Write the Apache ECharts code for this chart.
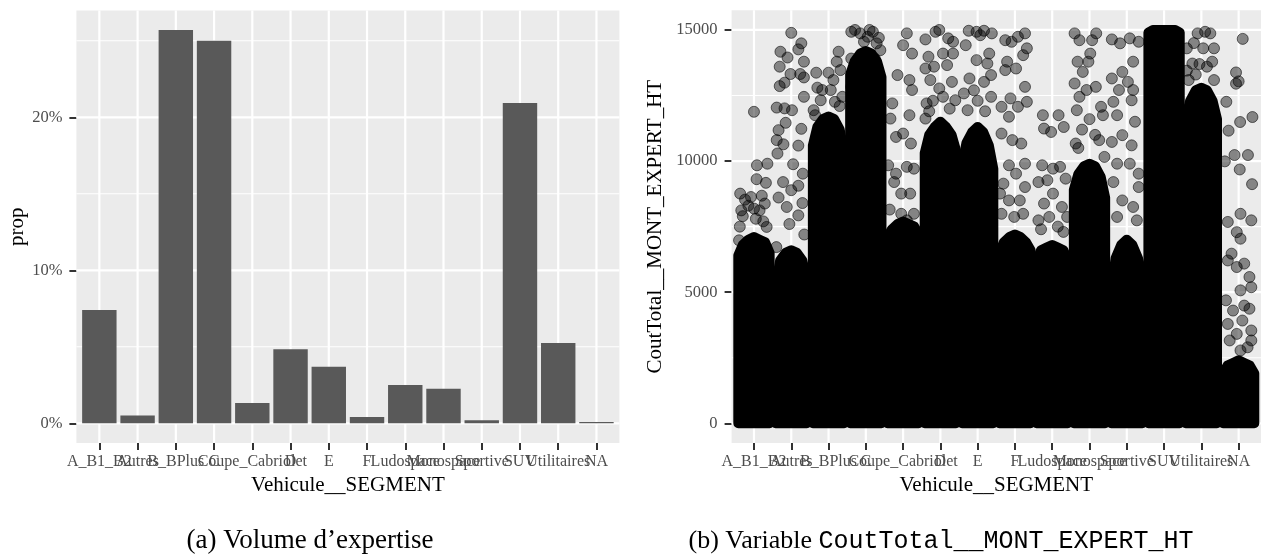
<!DOCTYPE html>
<html>
<head>
<meta charset="utf-8">
<script src="https://cdn.jsdelivr.net/npm/echarts@6/dist/echarts.min.js"></script>
<style>
  html, body { margin: 0; padding: 0; background: #ffffff; }
  #chart { width: 1261px; height: 559px; }
</style>
</head>
<body>
<div id="chart"></div>
<script>
// Vehicle segments, in axis order
const categories = ['A_B1_B2', 'Autres', 'B_BPlus', 'C', 'Coupe_Cabriolet', 'D', 'E', 'F',
  'Ludospace', 'Monospace', 'Sportive', 'SUV', 'Utilitaires', 'NA'];

// (a) share of expert reports per segment, in %
const propPct = [7.40, 0.52, 25.70, 25.00, 1.33, 4.84, 3.70, 0.41, 2.50, 2.26, 0.20, 20.93, 5.25, 0.08];
const propTicks = [0, 10, 20];
const propMinor = [5, 15, 25];

// (b) CoutTotal__MONT_EXPERT_HT per segment
const costTicks = [0, 5000, 10000, 15000];
const costMinor = [2500, 7500, 12500];

// Saturated part of each jittered column: upper envelope of the point centres
// at these horizontal offsets (in category units) from the segment position.
const coreOffsets = [-0.42, -0.3, -0.15, 0, 0.15, 0.3, 0.42];
const coreTops = [
  [6400, 6800, 7000, 7100, 7000, 6900, 6500],        // A_B1_B2
  [5200, 6200, 6500, 6600, 6500, 6200, 5400],        // Autres
  [10600, 11300, 11600, 11700, 11600, 11200, 10300], // B_BPlus
  [13300, 13800, 14100, 14200, 14100, 13800, 13200], // C
  [7100, 7400, 7600, 7700, 7600, 7500, 7200],        // Coupe_Cabriolet
  [10300, 11000, 11300, 11500, 11300, 11000, 10400], // D
  [9800, 10700, 11100, 11300, 11100, 10600, 9700],   // E
  [6500, 6900, 7100, 7200, 7100, 6900, 6600],        // F
  [6200, 6600, 6700, 6800, 6700, 6600, 6200],        // Ludospace
  [8900, 9500, 9800, 9900, 9800, 9400, 8600],        // Monospace
  [5000, 6300, 6800, 7000, 6800, 6300, 5600],        // Sportive
  [14900, 15000, 15000, 15000, 15000, 15000, 14900], // SUV
  [11600, 12300, 12700, 12800, 12700, 12300, 11600], // Utilitaires
  [1900, 2200, 2300, 2400, 2300, 2200, 1900]         // NA
];

// Isolated points above the saturated part: [offset, amount]
const costOutliers = [
  [[0,11880],[0.08,9840],[0.36,9900],[0.07,9310],[0.32,9170],[-0.37,8760],[-0.24,8530],[-0.08,8630],
   [0.21,8680],[0.29,8380],[-0.34,8120],[0,8190],[0.34,7490],[0.15,8120],[-0.4,6980],[-0.3,7900],
   [-0.15,8300],[0.05,7800],[0.25,7700],[-0.38,7500]],
  [[0,14890],[-0.29,14170],[0.27,14490],[0.19,14260],[-0.1,13950],[-0.31,13600],[0.34,13790],[-0.31,12860],
   [-0.18,12990],[-0.02,13320],[0.24,13320],[0.34,13190],[0.34,12450],[-0.39,12040],[-0.18,12010],[0.02,11940],
   [-0.15,11460],[-0.34,11180],[0.27,11230],[-0.39,10800],[-0.21,10640],[0.19,10590],[-0.37,10290],[0.05,9880],
   [0.31,9520],[-0.22,9200],[0,8890],[0.19,9060],[-0.34,8610],[-0.12,8250],[0.19,7930],[-0.4,6720],
   [0.3,8400],[-0.05,7600],[0.35,7200]],
  [[-0.33,13370],[0,13370],[-0.17,12710],[-0.4,11940],[0.27,14170],[0.22,13790],[0.32,13470],[0.13,13090],
   [0.06,12710],[-0.21,12320],[0.37,12450],[-0.36,11750],[0.17,12260],[-0.3,12800],[0.3,12100]],
  [[-0.39,14930],[-0.29,15000],[-0.15,14870],[0.19,14930],[0.29,14490],[0.05,14740],[-0.05,14550],[0.39,14230],
   [-0.39,13910],[-0.24,13600],[0.24,13910],[-0.39,12830],[-0.29,13280],[0.15,13600],[0.35,14700],[0.1,15000]],
  [[-0.15,13280],[0.1,14870],[0.24,14100],[0.17,13090],[0.24,12710],[0.17,11750],[-0.34,11620],[-0.19,10920],
   [0,11050],[0.21,10670],[-0.4,9840],[-0.19,9520],[0.1,9780],[0.29,9710],[-0.24,9200],[-0.05,8760],
   [0.19,8760],[-0.36,8150],[-0.05,7990],[0.29,7990],[0.1,7740],[-0.29,12200],[0,14420]],
  [[-0.4,14640],[-0.13,14930],[-0.03,15000],[0.21,14680],[0.34,14550],[-0.32,13980],[0.07,14100],[0.34,14100],
   [-0.4,13530],[-0.17,13600],[0.18,13660],[0.31,13020],[-0.27,13090],[0.07,12450],[-0.03,12770],[-0.37,12200],
   [0.4,12320],[-0.4,11620],[-0.2,12300],[0.25,12000],[-0.3,11900]],
  [[-0.24,14970],[-0.03,14930],[0.17,14970],[0.38,14870],[0.07,14800],[-0.32,14420],[-0.03,13850],[0.26,13720],
   [-0.22,13150],[-0.37,12580],[0.17,13020],[0.36,13280],[-0.27,11940],[0.36,12450],[0.31,14100],
   [0,12300],[-0.1,12700],[0.2,11900]],
  [[-0.26,14610],[-0.09,14550],[0.08,14740],[0.27,14870],[0.32,14300],[0.22,14040],[-0.21,13790],[0.03,13530],
   [-0.26,13470],[0.27,12830],[-0.12,12390],[-0.36,12070],[-0.16,11690],[0.08,12070],[0.32,12260],[-0.36,11050],
   [-0.07,10800],[0.17,10670],[0.27,9900],[-0.16,9840],[-0.31,9140],[0.03,9520],[0.27,9010],[-0.4,8760],
   [-0.16,8500],[0.13,8500],[-0.36,7990],[0.22,7990],[-0.02,7870]],
  [[-0.25,11750],[0.17,11750],[-0.22,11240],[-0.03,11110],[0.31,11300],[-0.27,9840],[0.02,9710],[0.21,9780],
   [-0.37,9200],[-0.13,9270],[0.36,9330],[-0.22,8380],[0.02,8760],[0.26,8250],[-0.37,7740],[0.4,7870],[-0.08,7870],
   [-0.3,7400],[0.15,7500],[0.3,7300]],
  [[-0.4,14870],[-0.27,14610],[0.07,14610],[0.18,14870],[-0.32,13790],[-0.03,13790],[-0.4,12960],[-0.18,13400],
   [0.02,14100],[0.17,12830],[-0.08,12710],[-0.27,12450],[0.36,11750],[0.31,12070],[-0.34,11940],[0.26,10800],
   [-0.37,10670],[0.4,10160],[-0.2,11200],[0,11600],[0.15,11000],[-0.3,10500]],
  [[-0.4,14640],[-0.18,14490],[0.08,14680],[0.32,14550],[0.17,13790],[-0.12,13400],[-0.4,13150],[0.03,13020],
   [-0.21,12710],[0.17,12710],[0.13,12320],[-0.36,12260],[-0.26,11750],[0.22,11500],[-0.4,10730],[-0.12,10990],
   [0.13,10600],[-0.26,9900],[0.08,9900],[0.32,9520],[-0.36,9200],[0.32,9010],[-0.12,8500],[0.17,8250],
   [-0.26,7870],[0.27,7740],[-0.4,4940]],
  [],
  [[-0.39,14300],[-0.24,13720],[-0.1,14870],[0.1,14930],[0.24,14870],[0.34,14300],[-0.34,13090],[0.29,13790],
   [-0.15,13300],[0.34,13090],[-0.39,13450],[0.05,14300],[-0.2,14500],[0.15,13600],[-0.05,13700]],
  [[0.11,14660],[-0.07,13380],[-0.07,12950],[0,13040],[-0.33,12260],[0.04,11490],[0.37,11680],[-0.27,11160],
   [-0.11,10230],[0.25,10230],[-0.37,9990],[0.03,9680],[0.36,9120],[-0.29,7680],[0.05,7990],[0.34,7740],
   [-0.05,7290],[0.05,7040],[-0.29,6210],[-0.05,5960],[0.15,6090],[-0.19,6470],[-0.34,4690],[0.29,5580],
   [0.34,5190],[0.05,5070],[-0.15,4300],[0.15,4490],[0.29,4370],[-0.29,3790],[0.1,3920],[0.34,3540],
   [-0.05,3410],[-0.24,3160],[0.24,2900],[0.05,2780],[0.34,3160]]
];

const positions = categories.map((_, i) => i + 1);
const SERIF = "'Liberation Serif', 'DejaVu Serif', serif";
const MONO = "'Liberation Mono', 'DejaVu Sans Mono', monospace";
const PANEL_BG = '#EBEBEB';

// White panel grid lines drawn through the axes' own scales
function gridLines(idx, values, horizontal, width) {
  return {
    type: 'custom', xAxisIndex: idx, yAxisIndex: idx, silent: true, z: 1, clip: false,
    data: values.map(v => horizontal ? [1, v] : [v, 0]),
    renderItem: (params, api) => {
      const cs = params.coordSys;
      const p = api.coord([api.value(0), api.value(1)]);
      const shape = horizontal
        ? { x1: cs.x, y1: p[1], x2: cs.x + cs.width, y2: p[1] }
        : { x1: p[0], y1: cs.y, x2: p[0], y2: cs.y + cs.height };
      return { type: 'line', shape, style: { stroke: '#FFFFFF', lineWidth: width } };
    }
  };
}

// Segment names under each tick; every name is drawn, even where neighbours overlap
function segmentLabels(idx) {
  return {
    type: 'custom', xAxisIndex: idx, yAxisIndex: idx, silent: true, z: 5, clip: false,
    data: positions.map(p => [p, 0]),
    renderItem: (params, api) => {
      const cs = params.coordSys;
      const p = api.coord([api.value(0), api.value(1)]);
      return {
        type: 'text', x: p[0], y: cs.y + cs.height + 11,
        style: { text: categories[params.dataIndex], fill: '#4D4D4D', font: "16px 'Liberation Serif', serif",
          align: 'center', verticalAlign: 'top' }
      };
    }
  };
}

function xAxisFor(idx) {
  return {
    gridIndex: idx, type: 'value', min: 0.4, max: 14.6,
    axisLine: { show: false, onZero: false },
    splitLine: { show: false },
    axisTick: { show: true, customValues: positions, length: 7, lineStyle: { color: '#333333', width: 2 } },
    axisLabel: { show: false },
    name: 'Vehicule__SEGMENT', nameLocation: 'middle', nameGap: 32,
    nameTextStyle: { color: '#000000', fontFamily: SERIF, fontSize: 21 }
  };
}

function yAxisFor(idx, min, max, ticks, fmt, title, gap) {
  return {
    gridIndex: idx, type: 'value', min, max,
    axisLine: { show: false, onZero: false }, splitLine: { show: false },
    axisTick: { show: true, customValues: ticks, length: 7, lineStyle: { color: '#333333', width: 2 } },
    axisLabel: { customValues: ticks, showMinLabel: true, showMaxLabel: true, formatter: fmt,
      color: '#4D4D4D', fontFamily: SERIF, fontSize: 16.5, margin: 14 },
    name: title, nameLocation: 'middle', nameGap: gap,
    nameTextStyle: { color: '#000000', fontFamily: SERIF, fontSize: 21 }
  };
}

const chart = echarts.init(document.getElementById('chart'), null, { renderer: 'canvas' });

chart.setOption({
  animation: false,
  backgroundColor: '#FFFFFF',
  grid: [
    { left: 76.4, top: 10.4, width: 543, height: 432.6, show: true, backgroundColor: PANEL_BG, borderWidth: 0 },
    { left: 731.6, top: 10.3, width: 531, height: 432.7, show: true, backgroundColor: PANEL_BG, borderWidth: 0 }
  ],
  xAxis: [xAxisFor(0), xAxisFor(1)],
  yAxis: [
    yAxisFor(0, -1.285, 26.985, propTicks, v => v + '%', 'prop', 47),
    yAxisFor(1, -750, 15750, costTicks, v => String(v), 'CoutTotal__MONT_EXPERT_HT', 66)
  ],
  series: [
    gridLines(0, propMinor, true, 1.1),
    gridLines(0, propTicks, true, 2.2),
    gridLines(0, positions, false, 2.2),
    gridLines(1, costMinor, true, 1.1),
    gridLines(1, costTicks, true, 2.2),
    gridLines(1, positions, false, 2.2),
    segmentLabels(0),
    segmentLabels(1),
    {
      // (a) bars, 0.9 of a category wide
      type: 'custom', xAxisIndex: 0, yAxisIndex: 0, z: 3, clip: false,
      data: propPct.map((v, i) => [positions[i], v]),
      renderItem: (params, api) => {
        const x = api.value(0), v = api.value(1);
        const a = api.coord([x - 0.45, v]);
        const b = api.coord([x + 0.45, 0]);
        return { type: 'rect', shape: { x: a[0], y: a[1], width: b[0] - a[0], height: b[1] - a[1] },
          style: { fill: '#595959' } };
      }
    },
    {
      // (b) saturated body of each jittered column; the round stroke stands for the point radius
      type: 'custom', xAxisIndex: 1, yAxisIndex: 1, z: 3, clip: false,
      data: coreTops.map((tops, i) => [positions[i]].concat(tops)),
      renderItem: (params, api) => {
        const x = api.value(0);
        const pts = coreOffsets.map((d, k) => api.coord([x + d, api.value(k + 1)]));
        pts.push(api.coord([x + coreOffsets[coreOffsets.length - 1], 0]));
        pts.push(api.coord([x + coreOffsets[0], 0]));
        return { type: 'polygon', shape: { points: pts },
          style: { fill: '#000000', stroke: '#000000', lineWidth: 10, lineJoin: 'round' } };
      }
    },
    {
      type: 'scatter', xAxisIndex: 1, yAxisIndex: 1, z: 4, symbolSize: 11,
      data: costOutliers.flatMap((pts, i) => pts.map(p => [positions[i] + p[0], p[1]])),
      itemStyle: { color: 'rgba(0,0,0,0.55)', borderColor: 'rgba(0,0,0,0.7)', borderWidth: 1 }
    }
  ],
  graphic: [
    {
      type: 'text', x: 310, y: 541, silent: true,
      style: { text: '(a) Volume d’expertise', font: "27px 'Liberation Serif', serif", fill: '#000000',
        align: 'center', verticalAlign: 'middle' }
    },
    {
      type: 'text', x: 941, y: 541, silent: true,
      style: {
        text: '(b) Variable {tt|CoutTotal__MONT_EXPERT_HT}',
        font: "26px 'Liberation Serif', serif", fill: '#000000', align: 'center', verticalAlign: 'middle',
        rich: { tt: { fontFamily: MONO, fontSize: 25, fill: '#000000' } }
      }
    }
  ]
});
</script>
</body>
</html>
